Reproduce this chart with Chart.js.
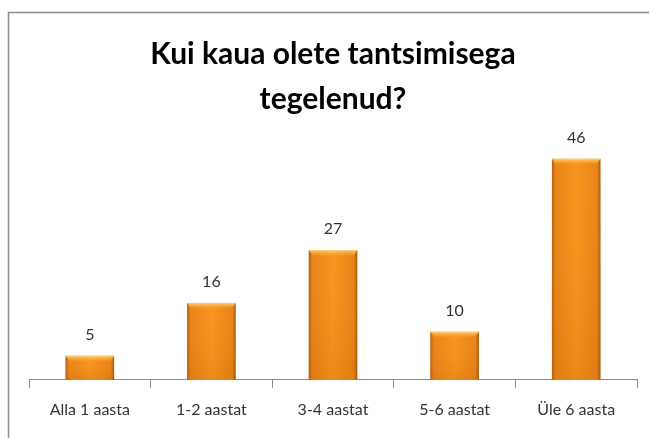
<!DOCTYPE html>
<html>
<head>
<meta charset="utf-8">
<script src="https://cdn.jsdelivr.net/npm/chart.js@4/dist/chart.umd.min.js"></script>
<style>
  html, body { margin: 0; padding: 0; background: #fff; }
  #wrap { width: 649px; height: 438px; position: relative; }
</style>
</head>
<body>
<div id="wrap"><canvas id="graafik" width="649" height="438"></canvas></div>
<script>
// Andmed
const kategooriad = ['Alla 1 aasta', '1-2 aastat', '3-4 aastat', '5-6 aastat', 'Üle 6 aasta'];
const vastused = [5, 16, 27, 10, 46];
const pealkiri = ['Kui kaua olete tantsimisega', 'tegelenud?'];

// Raam ümber diagrammi
const raam = {
  id: 'raam',
  beforeDraw(chart) {
    const c = chart.ctx;
    c.save();
    c.strokeStyle = '#8c8c8c';
    c.lineWidth = 1.5;
    c.beginPath();
    c.moveTo(8.5, 438);
    c.lineTo(8.5, 12.5);
    c.lineTo(649, 12.5);
    c.stroke();
    c.restore();
  }
};

// Tulpade reljeef ja väärtused
const tulbad = {
  id: 'tulbad',
  afterDatasetsDraw(chart) {
    const c = chart.ctx;
    const meta = chart.getDatasetMeta(0);
    meta.data.forEach((bar, i) => {
      const w = bar.width;
      const left = bar.x - w / 2;
      const top = bar.y;
      const h = bar.base - bar.y;

      // põhivärv
      const g = c.createLinearGradient(left, 0, left + w, 0);
      g.addColorStop(0, '#b35f0c');
      g.addColorStop(0.07, '#e8841a');
      g.addColorStop(0.5, '#f7961f');
      g.addColorStop(0.93, '#e8841a');
      g.addColorStop(1, '#a8560a');
      c.fillStyle = g;
      c.fillRect(left, top, w, h);

      // tumenemine allapoole
      const gv = c.createLinearGradient(0, top, 0, top + h);
      gv.addColorStop(0, 'rgba(255,160,40,0)');
      gv.addColorStop(1, 'rgba(180,80,0,0.18)');
      c.fillStyle = gv;
      c.fillRect(left, top, w, h);

      // hele ülaserv
      const gt = c.createLinearGradient(0, top, 0, top + 6);
      gt.addColorStop(0, '#ffd27a');
      gt.addColorStop(1, 'rgba(255,170,60,0)');
      c.fillStyle = gt;
      c.beginPath();
      c.moveTo(left, top);
      c.lineTo(left + w, top);
      c.lineTo(left + w - 4, top + 6);
      c.lineTo(left + 4, top + 6);
      c.closePath();
      c.fill();

      // väärtus tulba kohal
      c.save();
      c.fillStyle = '#333';
      c.font = '16px Lato';
      c.textAlign = 'center';
      c.textBaseline = 'middle';
      c.fillText(String(vastused[i]), bar.x, top - 21);
      c.restore();
    });
  }
};

new Chart(document.getElementById('graafik'), {
  type: 'bar',
  data: {
    labels: kategooriad,
    datasets: [{
      data: vastused,
      backgroundColor: 'rgba(0,0,0,0)',
      barPercentage: 0.4,
      categoryPercentage: 1
    }]
  },
  options: {
    responsive: false,
    animation: false,
    layout: { padding: { top: 32, left: 29, right: 12, bottom: 7 } },
    scales: {
      x: {
        grid: { drawOnChartArea: false, tickLength: 8, color: '#8c8c8c', offset: true },
        border: { color: '#8c8c8c', width: 1 },
        ticks: { color: '#333', font: { family: 'Lato', size: 16 }, padding: 12 }
      },
      y: { display: false, min: 0, max: 52 }
    },
    plugins: {
      legend: { display: false },
      tooltip: { enabled: false },
      title: {
        display: true,
        text: pealkiri,
        color: '#000',
        font: { family: 'Lato', size: 30, weight: 'bold', lineHeight: '45px' },
        padding: { top: 0, bottom: 8 }
      }
    }
  },
  plugins: [raam, tulbad]
});
</script>
</body>
</html>
